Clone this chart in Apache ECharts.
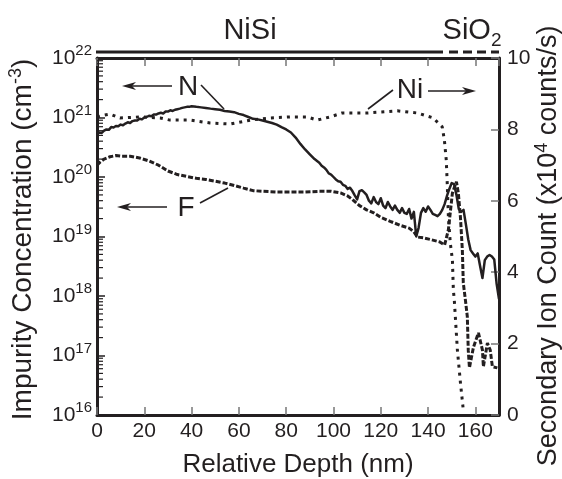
<!DOCTYPE html>
<html><head><meta charset="utf-8">
<script src="https://cdn.jsdelivr.net/npm/echarts@6/dist/echarts.min.js"></script>
<style>html,body{margin:0;padding:0;background:#fff}#c{width:562px;height:479px}</style>
</head><body><div id="c"></div>
<script>
// Depth (nm) and N concentration (cm^-3)
const nDepth = [0,1,2,3,4,5,6,7,8,9,10,11,12,13,14,15,16,17,18,19,20,21,22,23,24,25,26,27,28,29,30,31,32,33,34,35,36,37,38,39,40,42,44,46,48,50,52,54,56,58,60,62,64,66,68,70,72,74,76,78,80,82,84,86,88,90,92,94,95,96,97,98,99,100,101,102,103,104,105,106,107,108,109,110,111,112,113,114,115,116,117,118,119,120,121,122,123,124,125,126,127,128,129,130,131,132,133,134,135,136,137,138,139,140,141,142,143,144,145,146,147,148,149,150,151,152,153,154,155,156,157,158,159,160,161,162,163,164,165,166,167,168,169,170];
const nConc = [5.2e20,5.6e20,5.5e20,6.0e20,6.3e20,6.2e20,6.9e20,6.8e20,7.2e20,7.1e20,7.6e20,7.4e20,7.9e20,8.3e20,8.1e20,8.7e20,8.9e20,8.9e20,9.5e20,9.3e20,1.0e21,1.02e21,1.07e21,1.05e21,1.12e21,1.12e21,1.17e21,1.20e21,1.17e21,1.26e21,1.26e21,1.32e21,1.29e21,1.35e21,1.38e21,1.41e21,1.45e21,1.48e21,1.51e21,1.51e21,1.55e21,1.51e21,1.48e21,1.45e21,1.41e21,1.38e21,1.35e21,1.29e21,1.26e21,1.23e21,1.15e21,1.10e21,1.02e21,9.5e20,9.3e20,8.9e20,8.5e20,8.1e20,7.6e20,6.9e20,6.3e20,5.6e20,4.6e20,3.6e20,2.9e20,2.4e20,2.0e20,1.74e20,1.55e20,1.45e20,1.32e20,1.15e20,1.10e20,1.0e20,9.1e19,8.5e19,8.3e19,7.4e19,7.1e19,6.3e19,6.6e19,5.8e19,4.9e19,4.2e19,5.8e19,6.0e19,5.5e19,5.0e19,4.0e19,3.6e19,4.6e19,3.8e19,3.5e19,4.4e19,3.3e19,3.0e19,3.8e19,3.2e19,2.8e19,3.3e19,2.8e19,2.5e19,3.0e19,2.5e19,2.4e19,2.9e19,2.0e19,2.6e19,1.0e19,1.4e19,2.5e19,3.0e19,2.6e19,3.2e19,2.8e19,2.4e19,2.3e19,2.2e19,2.4e19,2.8e19,3.5e19,4.8e19,6.3e19,7.9e19,7.6e19,5.0e19,2.9e19,2.6e19,2.8e19,1.6e19,8.9e18,5.9e18,5.2e18,4.6e18,5.2e18,3.2e18,2.0e18,4.0e18,4.6e18,4.9e18,4.6e18,4.1e18,1.6e18,8.9e17];

// Depth (nm) and F concentration (cm^-3)
const fDepth = [0,1.3,3,5.5,8,10,14,18,22,26,30,34,38,42,46,50,54,58,62,66,70,76,82,88,94,99,103,106,108,111,114,117,120,124,128,132,134,135.5,138,141,145,147,148.6,150.3,152,152.8,153.7,154.5,154.9,155.8,156.6,157,157.5,158.3,159.2,161.3,163,163.4,165.1,166.3,167.2,169.3];
const fConc = [1.58e20,1.78e20,2.0e20,2.19e20,2.29e20,2.24e20,2.24e20,2.09e20,1.86e20,1.58e20,1.26e20,1.10e20,1.02e20,9.5e19,9.1e19,8.5e19,7.9e19,7.2e19,6.5e19,5.9e19,5.75e19,5.6e19,5.6e19,5.6e19,5.75e19,5.75e19,5.4e19,4.8e19,4.2e19,3.3e19,2.8e19,2.5e19,2.1e19,1.8e19,1.55e19,1.38e19,1.2e19,9.8e18,9.5e18,8.9e18,8.1e18,7.2e18,1.3e19,5.4e19,8.3e19,5.4e19,2.1e19,5.9e18,1.66e18,8.5e17,4.5e17,1.23e17,6.2e16,9.1e16,1.38e17,2.4e17,1.23e17,6.5e16,1.62e17,1.23e17,6.5e16,6.2e16];

// Depth (nm) and Ni secondary ion count (x10^4 counts/s)
const niDepth = [0,3,5.5,9.7,18.2,26.7,30.9,39.4,47.8,56.3,64.8,73.2,81.7,88.9,93.1,98.6,103.7,114.3,127,135.4,142.2,146,146.9,147.7,148.1,148.6,149.4,150.3,150.7,151.1,152.4,153.7,154.9];
const niCount = [8.35,8.40,8.43,8.32,8.35,8.32,8.26,8.26,8.18,8.15,8.26,8.32,8.35,8.35,8.26,8.35,8.46,8.46,8.52,8.46,8.32,8.07,7.70,7.14,6.50,5.55,4.82,4.34,3.50,3.22,1.82,0.90,0.14];

const xTicks = [0,20,40,60,80,100,120,140,160];
const rightTicks = [0,2,4,6,8,10];
const logDecades = [16,17,18,19,20,21,22];

const INK = '#231f20';
const FONT = 'Liberation Sans, Arial, Helvetica, sans-serif';

const pair = (xs, ys) => xs.map((x, i) => [x, ys[i]]);
const minorTicks = [];
for (let d = 16; d < 22; d++) for (let m = 2; m <= 9; m++) minorTicks.push([0, m * Math.pow(10, d)]);

const chart = echarts.init(document.getElementById('c'), null, {renderer: 'canvas'});

function arrow(x1, y, x2) { // shaft from x1 to tip at x2
  const dir = x2 > x1 ? 1 : -1;
  return [
    {type: 'line', shape: {x1: x1, y1: y, x2: x2 - dir * 8, y2: y}, style: {stroke: INK, lineWidth: 1.6}},
    {type: 'polygon', shape: {points: [[x2, y], [x2 - dir * 14, y - 4], [x2 - dir * 10, y], [x2 - dir * 14, y + 4]]}, style: {fill: INK}}
  ];
}

const graphics = [
  {type: 'text', x: 250, y: 31, style: {text: 'NiSi', font: '29px ' + FONT, fill: INK, textAlign: 'center', textVerticalAlign: 'middle'}},
  {type: 'text', x: 472, y: 31, style: {text: 'SiO{s|2}', rich: {s: {fontSize: 19, padding: [20, 0, 0, 0], fontFamily: FONT, fill: INK}}, font: '29px ' + FONT, fill: INK, textAlign: 'center', textVerticalAlign: 'middle'}},
  {type: 'line', shape: {x1: 96, y1: 52, x2: 443, y2: 52}, style: {stroke: INK, lineWidth: 3}},
  {type: 'line', shape: {x1: 449, y1: 52, x2: 499, y2: 52}, style: {stroke: INK, lineWidth: 3, lineDash: [9, 5]}},
  {type: 'text', x: 188, y: 87, style: {text: 'N', font: '28px ' + FONT, fill: INK, textAlign: 'center', textVerticalAlign: 'middle'}},
  {type: 'line', shape: {x1: 201, y1: 85, x2: 224, y2: 109}, style: {stroke: INK, lineWidth: 1.6}},
  {type: 'text', x: 410, y: 90, style: {text: 'Ni', font: '28px ' + FONT, fill: INK, textAlign: 'center', textVerticalAlign: 'middle'}},
  {type: 'line', shape: {x1: 393, y1: 90, x2: 368, y2: 109}, style: {stroke: INK, lineWidth: 1.6}},
  {type: 'text', x: 186, y: 208, style: {text: 'F', font: '28px ' + FONT, fill: INK, textAlign: 'center', textVerticalAlign: 'middle'}},
  {type: 'line', shape: {x1: 200, y1: 203, x2: 228, y2: 188}, style: {stroke: INK, lineWidth: 1.6}},
  {type: 'text', x: 549, y: 246, rotation: Math.PI / 2,
   style: {text: '{a|Secondary Ion Count (x10}{s|4}{a| counts/s)}', textAlign: 'center', textVerticalAlign: 'middle',
     rich: {a: {fontSize: 27, fontFamily: FONT, fill: INK}, s: {fontSize: 18, fontFamily: FONT, fill: INK, padding: [0, 0, 14, 0]}}}}
].concat(arrow(172, 86, 122), arrow(428, 91, 476), arrow(167, 207, 117));

const axisLabelStyle = {color: INK, fontSize: 21, fontFamily: FONT};

chart.setOption({
  animation: false,
  backgroundColor: '#fff',
  grid: {left: 97, right: 63, top: 58, bottom: 64, containLabel: false, outerBoundsMode: 'none'},
  xAxis: [
    {type: 'value', min: 0, max: 170, interval: 20, position: 'bottom',
     name: 'Relative Depth (nm)', nameLocation: 'middle', nameGap: 37,
     nameTextStyle: {color: INK, fontSize: 26, fontFamily: FONT},
     axisLine: {show: true, onZero: false, lineStyle: {color: INK, width: 3}},
     axisTick: {show: true, inside: true, length: 8, lineStyle: {color: '#777', width: 1.5}},
     axisLabel: Object.assign({margin: 6, showMaxLabel: false}, axisLabelStyle),
     splitLine: {show: false}},
    {type: 'value', min: 0, max: 170, interval: 20, position: 'top',
     axisLine: {show: true, onZero: false, lineStyle: {color: INK, width: 3}},
     axisTick: {show: true, inside: true, length: 8, lineStyle: {color: '#777', width: 1.5}},
     axisLabel: {show: false}, splitLine: {show: false}}
  ],
  yAxis: [
    {type: 'log', logBase: 10, min: 1e16, max: 1e22, position: 'left',
     name: '{a|Impurity Concentration (cm}{s|-3}{a|)}', nameLocation: 'middle', nameGap: 57, nameRotate: 90,
     nameTextStyle: {padding: [0, 6, 0, 0], rich: {a: {fontSize: 28, fontFamily: FONT, color: INK}, s: {fontSize: 18, fontFamily: FONT, color: INK, padding: [0, 0, 15, 0]}}},
     axisLine: {show: true, onZero: false, lineStyle: {color: INK, width: 3}},
     axisTick: {show: true, inside: true, length: 8, lineStyle: {color: INK, width: 1.5}},
     axisLabel: {margin: 5, color: INK, formatter: v => '{b|10}{s|' + Math.round(Math.log10(v)) + '}',
       rich: {b: {fontSize: 21, fontFamily: FONT, color: INK}, s: {fontSize: 15, fontFamily: FONT, color: INK, padding: [0, 0, 14, 0]}}},
     splitLine: {show: false}},
    {type: 'value', min: 0, max: 10, interval: 2, position: 'right',
     axisLine: {show: true, onZero: false, lineStyle: {color: INK, width: 3}},
     axisTick: {show: true, inside: true, length: 8, lineStyle: {color: '#777', width: 1.5}},
     axisLabel: Object.assign({margin: 8}, axisLabelStyle),
     splitLine: {show: false}}
  ],
  series: [
    {name: 'Ni', type: 'line', xAxisIndex: 0, yAxisIndex: 1, data: pair(niDepth, niCount), showSymbol: false, silent: true,
     lineStyle: {color: INK, width: 3, type: [3, 5], cap: 'butt'}, z: 3},
    {name: 'F', type: 'line', xAxisIndex: 0, yAxisIndex: 0, data: pair(fDepth, fConc), showSymbol: false, silent: true,
     lineStyle: {color: INK, width: 3, type: [5, 2], cap: 'butt'}, z: 3},
    {name: 'N', type: 'line', xAxisIndex: 0, yAxisIndex: 0, data: pair(nDepth, nConc), showSymbol: false, silent: true,
     lineStyle: {color: INK, width: 2.5, join: 'round'}, z: 4},
    {name: 'minorTicks', type: 'custom', xAxisIndex: 0, yAxisIndex: 0, data: minorTicks, silent: true, clip: false, z: 5,
     renderItem: (params, api) => {
       const p = api.coord([0, api.value(1)]);
       return {type: 'line', shape: {x1: p[0], y1: p[1], x2: p[0] + 6, y2: p[1]}, style: {stroke: INK, lineWidth: 1.2}};
     }}
  ],
  graphic: graphics
});
</script></body></html>
